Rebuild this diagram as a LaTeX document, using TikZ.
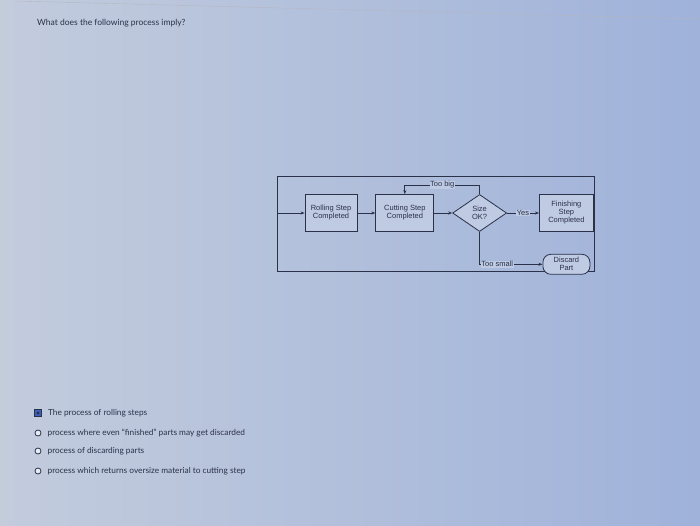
\documentclass[tikz,border=0pt]{standalone}
\usepackage{fontspec}
\setmainfont{Lato}
\newfontfamily\boxfont{Liberation Sans}
\usetikzlibrary{shapes.geometric, positioning, arrows.meta}

\definecolor{screenbg}{HTML}{B4C2DE}
\definecolor{screenleft}{HTML}{C3CCDD}
\definecolor{screenright}{HTML}{9FB2DA}
\definecolor{inkdark}{HTML}{2A3148}
\definecolor{pickblue}{HTML}{3C5FB8}

\begin{document}
\begin{tikzpicture}[
    x=1pt, y=-1pt,
    >={Stealth[length=4pt,width=3pt]}, node distance=18pt,
    stepbox/.style={draw=inkdark, thick, fill=screenbg!85!white, minimum width=54pt,
        minimum height=37pt, align=center, inner sep=1pt,
        font=\boxfont\fontsize{7.5}{8}\selectfont, text=inkdark},
    check/.style={draw=inkdark, thick, diamond, aspect=1.45, fill=screenbg!85!white,
        minimum width=54pt, minimum height=37pt, inner sep=0pt, align=center,
        font=\boxfont\fontsize{7.5}{8}\selectfont, text=inkdark},
    endbox/.style={stepbox, rounded corners=8pt, minimum width=47pt, minimum height=20pt},
    flow/.style={->, draw=inkdark, thick},
    lbl/.style={font=\boxfont\fontsize{7.5}{8}\selectfont, text=inkdark,
        fill=screenbg!85!white, inner sep=0.5pt},
    question/.style={font=\fontsize{8.3}{10}\selectfont, text=inkdark, anchor=west, inner sep=0pt},
    radio/.style={circle, draw=inkdark, thick, fill=white!70!screenbg, minimum size=6pt, inner sep=0pt}
]

    % Screen
    \shade[left color=screenleft, right color=screenright] (0,0) rectangle (700,526);
    \useasboundingbox (0,0) rectangle (700,526);
    \draw[inkdark!35, thin] (15,1) -- (700,19);
    \draw[inkdark!25, thin] (5,0) -- (5,526);

    \node[question, font=\fontsize{8.5}{10}\selectfont] (ask) at (37,23) {What does the following process imply?};

    % Frame
    \draw[inkdark, thick] (277,176) rectangle (594,271);

    % Steps
    \node[stepbox, minimum width=52pt] (roll) at (331,213) {Rolling Step\\Completed};
    \node[stepbox, minimum width=58pt, right=of roll] (cut) {Cutting Step\\Completed};
    \node[check, right=of cut] (size) {Size\\OK?};
    \node[stepbox, right=32pt of size] (finish) {Finishing\\Step\\Completed};
    \node[endbox, below=22pt of finish] (discard) {Discard\\Part};
    \coordinate (entry) at (277,213);
    \coordinate (bigrow) at (0,185);

    % Transitions
    \draw[flow] (entry) -- (roll);
    \draw[flow] (roll) -- (cut);
    \draw[flow] (cut) -- (size);
    \draw[flow] (size) -- node[lbl] {Yes} (finish);
    \draw[flow] (size.north) -- (size.north |- bigrow) -- node[lbl] {Too big}
        (cut.north |- bigrow) -- (cut.north);
    \draw[flow] (size.south) |- node[lbl, pos=0.64] {Too small} (discard);

    % Answers
    \node[radio, rectangle, fill=pickblue, minimum size=7pt] (pick1) at (38,413) {};
    \fill[inkdark] (pick1) circle (1.6pt);
    \node[radio] (pick2) at (38,433) {};
    \node[radio] (pick3) at (38,451) {};
    \node[radio] (pick4) at (38,471) {};
    \node[question, right=6pt of pick1] (ans1) {The process of rolling steps};
    \node[question, right=6pt of pick2] (ans2) {process where even ``finished'' parts may get discarded};
    \node[question, right=6pt of pick3] (ans3) {process of discarding parts};
    \node[question, right=6pt of pick4] (ans4) {process which returns oversize material to cutting step};

\end{tikzpicture}
\end{document}
